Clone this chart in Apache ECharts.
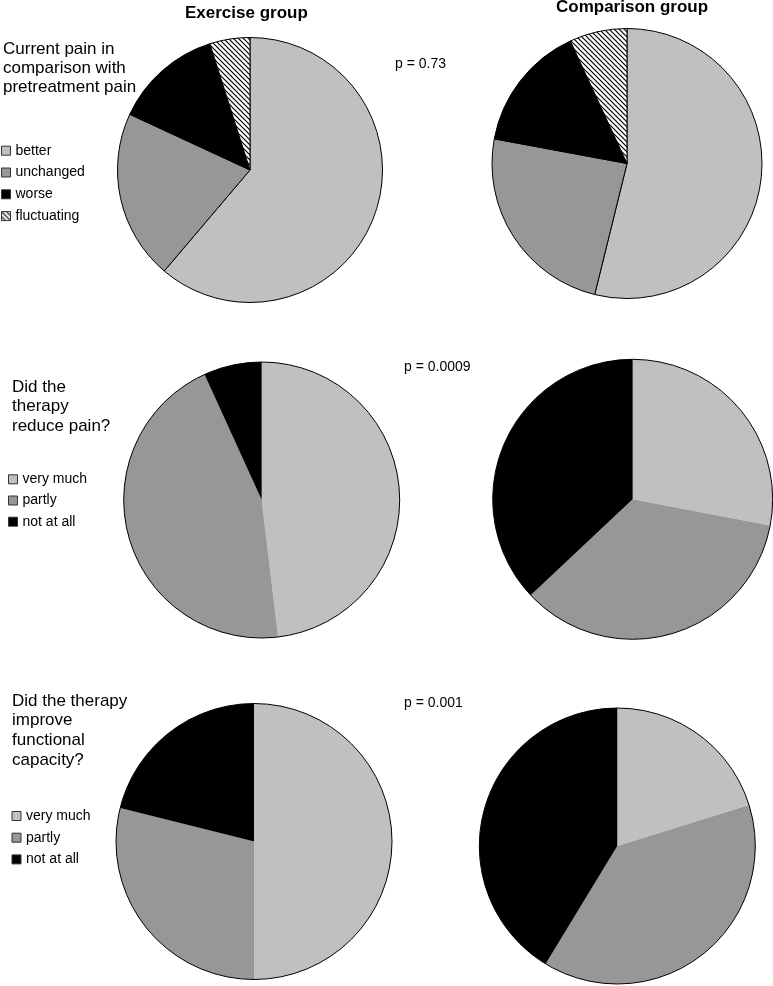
<!DOCTYPE html>
<html>
<head>
<meta charset="utf-8">
<script src="https://cdn.jsdelivr.net/npm/echarts@6/dist/echarts.min.js"></script>
<style>
html,body{margin:0;padding:0;background:#fff;}
#chart{width:773px;height:986px;}
</style>
</head>
<body>
<div id="chart"></div>
<script>
// ---- data ----
const groupTitles = ['Exercise group', 'Comparison group'];
const questions = [
  'Current pain in\ncomparison with\npretreatment pain',
  'Did the\ntherapy\nreduce pain?',
  'Did the therapy\nimprove\nfunctional\ncapacity?'
];
const pValues = ['p = 0.73', 'p = 0.0009', 'p = 0.001'];
const painCategories = ['better', 'unchanged', 'worse', 'fluctuating'];
const effectCategories = ['very much', 'partly', 'not at all'];
const painExercise = [61.2, 20.7, 13.2, 4.9];
const painComparison = [53.9, 24.1, 15.2, 6.9];
const reduceExercise = [48.1, 45.1, 6.8];
const reduceComparison = [28.0, 35.0, 37.0];
const functionExercise = [50.0, 28.9, 21.1];
const functionComparison = [20.2, 38.5, 41.3];

// ---- styling ----
const FONT = 'Liberation Sans, Arial, sans-serif';
const LIGHT = '#c0c0c0', MID = '#979797', DARK = '#000000';

function hatch() {
  const c = document.createElement('canvas');
  c.width = 5; c.height = 5;
  const ctx = c.getContext('2d');
  ctx.fillStyle = '#fff'; ctx.fillRect(0, 0, 5, 5);
  ctx.strokeStyle = '#000'; ctx.lineWidth = 1.2;
  ctx.beginPath();
  ctx.moveTo(-1, -1); ctx.lineTo(6, 6);
  ctx.moveTo(-1, 4); ctx.lineTo(1, 6);
  ctx.moveTo(4, -1); ctx.lineTo(6, 1);
  ctx.stroke();
  return { image: c, repeat: 'repeat' };
}
const painColors = [LIGHT, MID, DARK, hatch()];
const effectColors = [LIGHT, MID, DARK];

function pieData(cats, vals, colors) {
  return cats.map((n, i) => ({ name: n, value: vals[i], itemStyle: { color: colors[i] } }));
}

function pieSeries(center, radius, data, border) {
  return {
    type: 'pie', center: center, radius: radius, startAngle: 90, clockwise: true,
    data: data, label: { show: false }, labelLine: { show: false },
    avoidLabelOverlap: false, silent: true, animation: false,
    emphasis: { disabled: true },
    itemStyle: border ? { borderColor: '#000', borderWidth: 1 } : { borderWidth: 0 }
  };
}
function outline(center, radius) {
  return {
    type: 'pie', center: center, radius: radius, silent: true, animation: false,
    data: [{ name: '_outline', value: 1 }], label: { show: false }, labelLine: { show: false },
    emphasis: { disabled: true },
    itemStyle: { color: 'rgba(0,0,0,0)', borderColor: '#000', borderWidth: 1 }
  };
}

const series = [
  pieSeries([250, 170], 132.5, pieData(painCategories, painExercise, painColors), true),
  pieSeries([627, 163.5], 135, pieData(painCategories, painComparison, painColors), true),
  pieSeries([261.7, 500], 138, pieData(effectCategories, reduceExercise, effectColors), false),
  outline([261.7, 500], 138),
  pieSeries([632.7, 499.3], 140, pieData(effectCategories, reduceComparison, effectColors), false),
  outline([632.7, 499.3], 140),
  pieSeries([254, 841.5], 138, pieData(effectCategories, functionExercise, effectColors), false),
  outline([254, 841.5], 138),
  pieSeries([617.3, 846], 138, pieData(effectCategories, functionComparison, effectColors), false),
  outline([617.3, 846], 138)
];

function txt(text, left, top, size, weight, lh) {
  return {
    text: text, left: left, top: top, padding: 0,
    textStyle: { fontFamily: FONT, fontSize: size, fontWeight: weight, color: '#000', lineHeight: lh || size }
  };
}
const titles = [
  txt(groupTitles[0], 185, 5, 17, 'bold'),
  txt(groupTitles[1], 556, -1, 17, 'bold'),
  txt(questions[0], 3, 39.7, 17, 'normal', 19),
  txt(questions[1], 12, 377.2, 17, 'normal', 19.7),
  txt(questions[2], 12, 691, 17, 'normal', 19.7),
  txt(pValues[0], 395, 56.8, 14, 'normal'),
  txt(pValues[1], 404, 360.5, 14, 'normal'),
  txt(pValues[2], 404, 696, 14, 'normal')
];

function legend(names, left, top, gap) {
  return {
    data: names, orient: 'vertical', left: left, top: top, padding: 0,
    itemWidth: 9, itemHeight: 9, itemGap: gap, icon: 'rect', selectedMode: false,
    itemStyle: { borderColor: '#333', borderWidth: 1 },
    textStyle: { fontFamily: FONT, fontSize: 14, color: '#000', lineHeight: 14, padding: 0 }
  };
}

const chart = echarts.init(document.getElementById('chart'));
chart.setOption({
  backgroundColor: '#fff',
  animation: false,
  title: titles,
  legend: [
    legend(painCategories, 1, 143.7, 7.8),
    legend(effectCategories, 8, 472.3, 7.2),
    legend(effectCategories, 11.5, 809, 7.7)
  ],
  series: series
});
</script>
</body>
</html>
